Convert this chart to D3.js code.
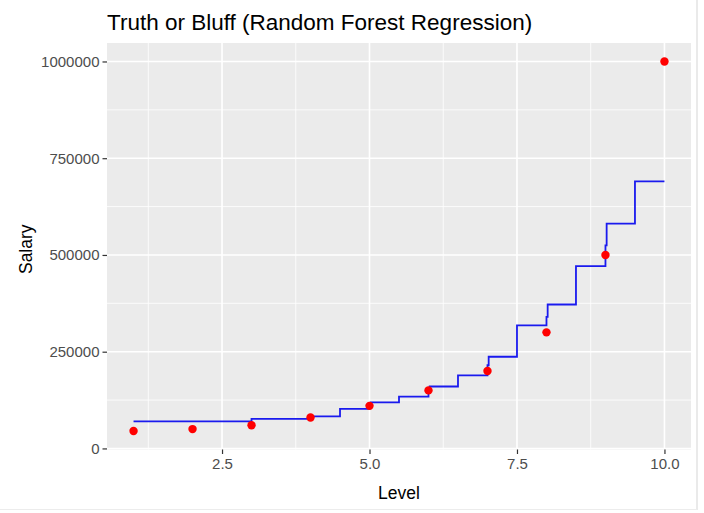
<!DOCTYPE html>
<html>
<head>
<meta charset="utf-8">
<script src="https://cdn.jsdelivr.net/npm/d3@7"></script>
<style>
  body { margin: 0; background: #fff; }
  text { font-family: "Liberation Sans", Arial, sans-serif; }
</style>
</head>
<body>
<div id="chart"></div>
<script>
// observed data points
const levels = [1, 2, 3, 4, 5, 6, 7, 8, 9, 10];
const salaries = [45000, 50000, 60000, 80000, 110000, 150000, 200000, 300000, 500000, 1000000];

// random forest prediction, read as steps (level where a step starts, value after it)
const stepLevels = [1, 3, 4, 4.5, 5, 5.02, 5.5, 6, 6.02, 6.5, 7, 7.02, 7.5, 8, 8.02, 8.5, 9, 9.02, 9.5, 10];
const stepSalaries = [70000, 76500, 83000, 102000, 111000, 119000, 134000, 150000, 160000, 189000, 215000, 237000, 318000, 340000, 372000, 471000, 525000, 581000, 690000, 690000];

// axis ticks
const xTicks = [2.5, 5.0, 7.5, 10.0];
const xMinor = [1.25, 3.75, 6.25, 8.75];
const yTicks = [0, 250000, 500000, 750000, 1000000];
const yMinor = [125000, 375000, 625000, 875000];

const W = 704, H = 513;
const panel = { left: 107, right: 691, top: 43, bottom: 449.5 };

const svg = d3.select("#chart")
    .append("svg")
    .attr("width", W)
    .attr("height", H);

svg.append("rect").attr("width", W).attr("height", H).attr("fill", "#fff");

// scales (ggplot style expansion around the data)
const x = d3.scaleLinear()
    .domain([0.55, 10.45])
    .range([panel.left, panel.right]);

const y = d3.scaleLinear()
    .domain([-2750, 1047750])
    .range([panel.bottom, panel.top]);

// panel background
svg.append("rect")
    .attr("x", panel.left)
    .attr("y", panel.top)
    .attr("width", panel.right - panel.left)
    .attr("height", panel.bottom - panel.top)
    .attr("fill", "#ebebeb");

// grid: minor then major
const grid = svg.append("g");
grid.selectAll(".ym").data(yMinor).enter().append("line")
    .attr("x1", panel.left).attr("x2", panel.right)
    .attr("y1", d => y(d)).attr("y2", d => y(d))
    .attr("stroke", "#fff").attr("stroke-width", 0.8);
grid.selectAll(".xm").data(xMinor).enter().append("line")
    .attr("y1", panel.top).attr("y2", panel.bottom)
    .attr("x1", d => x(d)).attr("x2", d => x(d))
    .attr("stroke", "#fff").attr("stroke-width", 0.8);
grid.selectAll(".yM").data(yTicks).enter().append("line")
    .attr("x1", panel.left).attr("x2", panel.right)
    .attr("y1", d => y(d)).attr("y2", d => y(d))
    .attr("stroke", "#fff").attr("stroke-width", 1.6);
grid.selectAll(".xM").data(xTicks).enter().append("line")
    .attr("y1", panel.top).attr("y2", panel.bottom)
    .attr("x1", d => x(d)).attr("x2", d => x(d))
    .attr("stroke", "#fff").attr("stroke-width", 1.6);

// axes
const xAxis = svg.append("g")
    .attr("transform", `translate(0,${panel.bottom})`)
    .call(d3.axisBottom(x).tickValues(xTicks).tickFormat(d3.format(".1f")).tickSize(4.5).tickPadding(4));

const yAxis = svg.append("g")
    .attr("transform", `translate(${panel.left},0)`)
    .call(d3.axisLeft(y).tickValues(yTicks).tickFormat(d => String(d)).tickSize(4.5).tickPadding(3));

[xAxis, yAxis].forEach(a => {
    a.select(".domain").remove();
    a.selectAll(".tick line").attr("stroke", "#333").attr("stroke-width", 1.2);
    a.selectAll(".tick text")
        .attr("fill", "#4d4d4d")
        .style("font-size", "15px")
        .style("font-family", "'Liberation Sans', Arial, sans-serif");
});

// prediction line
const line = d3.line()
    .x((d, i) => x(stepLevels[i]))
    .y(d => y(d))
    .curve(d3.curveStepAfter);

svg.append("path")
    .datum(stepSalaries)
    .attr("fill", "none")
    .attr("stroke", "#1a1aee")
    .attr("stroke-width", 1.8)
    .attr("d", line);

// observed points
svg.selectAll(".pt")
    .data(levels)
    .enter()
    .append("circle")
    .attr("cx", d => x(d))
    .attr("cy", (d, i) => y(salaries[i]))
    .attr("r", 4.2)
    .attr("fill", "#ff0000");

// labels
svg.append("text")
    .attr("x", panel.left)
    .attr("y", 30)
    .style("font-size", "22.5px")
    .attr("fill", "#000")
    .text("Truth or Bluff (Random Forest Regression)");

svg.append("text")
    .attr("x", (panel.left + panel.right) / 2)
    .attr("y", 499)
    .attr("text-anchor", "middle")
    .style("font-size", "17.5px")
    .attr("fill", "#000")
    .text("Level");

svg.append("text")
    .attr("transform", `translate(32,${(panel.top + panel.bottom) / 2 + 3}) rotate(-90)`)
    .attr("text-anchor", "middle")
    .style("font-size", "17.5px")
    .attr("fill", "#000")
    .text("Salary");

// faint frame at right and bottom edges
svg.append("line").attr("x1", 697).attr("x2", 697).attr("y1", 0).attr("y2", 510)
    .attr("stroke", "#e3e3e3").attr("stroke-width", 1.5);
svg.append("line").attr("x1", 0).attr("x2", 697).attr("y1", 509.5).attr("y2", 509.5)
    .attr("stroke", "#ececec").attr("stroke-width", 1);
</script>
</body>
</html>
